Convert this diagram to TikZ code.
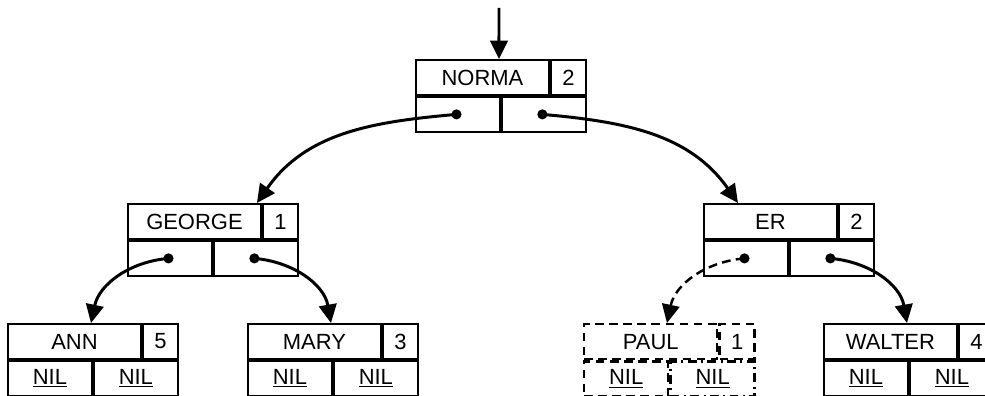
\documentclass[tikz,border=0pt]{standalone}
\usepackage{fontspec}
\setmainfont{Liberation Sans}
\usetikzlibrary{arrows.meta, positioning}

\begin{document}
\begin{tikzpicture}[x=0.02cm, y=0.02cm,
  key/.style={rectangle, draw, line width=1.1pt, minimum width=2.66cm, minimum height=0.7cm,
    inner sep=0pt, anchor=north west, font=\fontsize{12.5}{14}\selectfont},
  cnt/.style={key, minimum width=0.7cm},
  ptr/.style={key, minimum width=1.68cm},
  ghost/.style={line width=1.4pt, dash pattern=on 5pt off 3pt},
  ghostdot/.style={line width=1.4pt, dash pattern=on 5pt off 2.5pt on 1.2pt off 2.5pt},
  link/.style={-{Triangle[length=10.5pt,width=10pt]}, line width=1.7pt}
]
\useasboundingbox (0,0) rectangle (985,396);

% root record
\node[key] (norma) at (415,337) {NORMA};
\node[cnt] (normaN) at (norma.north east) {2};
\node[ptr] (normaL) at (norma.south west) {};
\node[ptr] (normaR) at (normaL.north east) {};

% second level
\node[key] (george) at (127,193) {GEORGE};
\node[cnt] (georgeN) at (george.north east) {1};
\node[ptr] (georgeL) at (george.south west) {};
\node[ptr] (georgeR) at (georgeL.north east) {};

\node[key] (er) at (703,193) {ER};
\node[cnt] (erN) at (er.north east) {2};
\node[ptr] (erL) at (er.south west) {};
\node[ptr] (erR) at (erL.north east) {};

% leaves
\node[key] (ann) at (7,73) {ANN};
\node[cnt] (annN) at (ann.north east) {5};
\node[ptr] (annL) at (ann.south west) {\underline{NIL}};
\node[ptr] (annR) at (annL.north east) {\underline{NIL}};

\node[key] (mary) at (247,73) {MARY};
\node[cnt] (maryN) at (mary.north east) {3};
\node[ptr] (maryL) at (mary.south west) {\underline{NIL}};
\node[ptr] (maryR) at (maryL.north east) {\underline{NIL}};

\node[key, ghost] (paul) at (583,73) {PAUL};
\node[cnt, ghost] (paulN) at (paul.north east) {1};
\node[ptr, ghost] (paulL) at (paul.south west) {\underline{NIL}};
\node[ptr, ghostdot] (paulR) at (paulL.north east) {\underline{NIL}};

\node[key] (walter) at (823,73) {WALTER};
\node[cnt] (walterN) at (walter.north east) {4};
\node[ptr] (walterL) at (walter.south west) {\underline{NIL}};
\node[ptr] (walterR) at (walterL.north east) {\underline{NIL}};

% pointers
\coordinate (entry) at (499,388);
\draw[link] (entry) -- ([xshift=1.68cm]norma.north west);

\foreach \p in {normaL, normaR, georgeL, georgeR, erL, erR}
  \fill ([xshift=-0.3mm]\p.center) circle (2.9pt);

\draw[link] ([xshift=-0.3mm]normaL.center) to[out=185, in=55] ([xshift=-1mm]george.north east);
\draw[link] ([xshift=-0.3mm]normaR.center) to[out=-5, in=125] ([xshift=7mm]er.north west);
\draw[link] ([xshift=-0.3mm]georgeL.center) to[out=185, in=78] ([xshift=1.68cm]ann.north west);
\draw[link] ([xshift=-0.3mm]georgeR.center) to[out=-5, in=100] ([xshift=1.68cm]mary.north west);
\draw[link, ghost] ([xshift=-0.3mm]erL.center) to[out=185, in=78] ([xshift=1.68cm]paul.north west);
\draw[link] ([xshift=-0.3mm]erR.center) to[out=-5, in=100] ([xshift=1.68cm]walter.north west);
\end{tikzpicture}
\end{document}
